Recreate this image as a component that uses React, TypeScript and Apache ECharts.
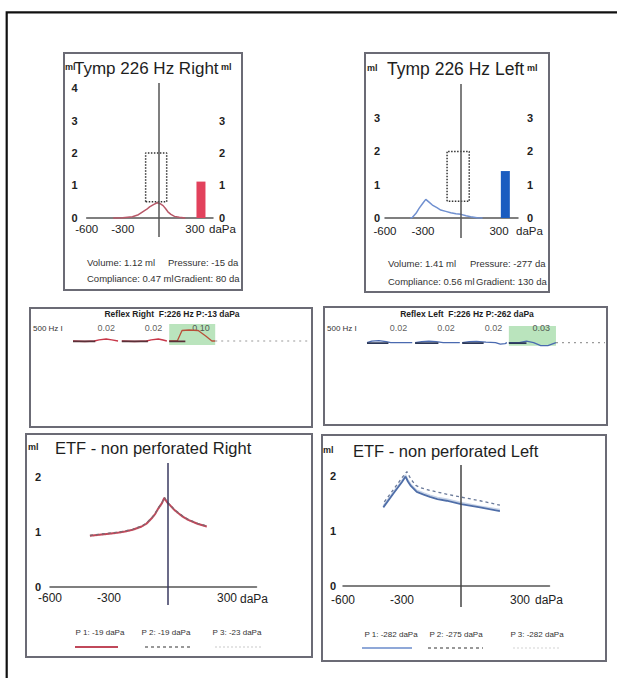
import React, { useEffect, useRef } from "react";
import * as echarts from "echarts";

const FONT = "'Liberation Sans', Arial, Helvetica, sans-serif";

// ---------- Tympanometry ----------
const tympXTicks = [-600, -300, 300];
const tympRightYTicksLeft = [0, 1, 2, 3, 4];
const tympRightYTicksRight = [0, 1, 2, 3];
const tympLeftYTicksLeft = [0, 1, 2, 3];
const tympLeftYTicksRight = [0, 1, 2, 3];

const tympRightCurve: [number, number][] = [
  [-380, 0], [-300, 0.01], [-220, 0.04], [-170, 0.1], [-135, 0.19], [-100, 0.27],
  [-77, 0.34], [-45, 0.41], [-15, 0.47], [10, 0.44], [35, 0.38], [55, 0.29],
  [75, 0.19], [100, 0.11], [130, 0.05], [170, 0.02], [220, 0],
];
const tympLeftCurve: [number, number][] = [
  [-400, 0], [-383, 0.02], [-355, 0.14], [-331, 0.29], [-300, 0.45], [-278, 0.56],
  [-250, 0.47], [-226, 0.39], [-190, 0.31], [-160, 0.24], [-120, 0.2], [-81, 0.16],
  [-40, 0.13], [0, 0.11], [40, 0.07], [76, 0.04], [126, 0.01], [170, 0],
];
const normalRegionX = [-110, 65];
const normalRegionY = [0.5, 2.0];
const volumeBarPressure = 350;
const tympRightVolume = 1.12;
const tympLeftVolume = 1.41;

const tympRightInfo = ["Volume: 1.12 ml", "Pressure: -15 da", "Compliance: 0.47 ml", "Gradient: 80 da"];
const tympLeftInfo = ["Volume: 1.41 ml", "Pressure: -277 da", "Compliance: 0.56 ml", "Gradient: 130 da"];

// ---------- Reflex ----------
const reflexRightTraces: [number, number][][] = [
  [[0, 0], [0.25, -0.005], [0.45, 0], [0.55, 0.012], [0.7, 0.02], [0.82, 0.012], [0.95, 0]],
  [[1.03, 0], [1.3, -0.005], [1.55, 0], [1.65, 0.012], [1.8, 0.02], [1.9, 0.01], [1.98, 0]],
  [[2.03, 0], [2.2, 0], [2.3, 0.105], [2.45, 0.11], [2.64, 0.105], [2.8, 0.05], [2.93, 0], [3.0, 0]],
];
const reflexRightOverlay: [number, number][][] = [
  [[0, -0.004], [0.47, -0.004]],
  [[1.03, -0.004], [1.58, -0.004]],
  [[2.03, -0.004], [2.37, -0.004]],
];
const reflexRightBaseline: [number, number][] = [[3.0, 0], [5.0, 0]];
const reflexRightValues = ["0.02", "0.02", "0.10"];
const reflexRightHighlight = [2.03, 3.0];

const reflexLeftTraces: [number, number][][] = [
  [[0, 0], [0.1, 0.015], [0.25, 0.02], [0.4, 0.01], [0.5, 0], [0.95, 0]],
  [[1.01, 0], [1.15, 0.01], [1.3, 0.015], [1.45, 0.01], [1.6, 0], [1.95, 0]],
  [[2.0, 0], [2.15, 0.01], [2.3, 0.012], [2.5, 0.005], [2.7, 0], [2.8, -0.015], [2.9, -0.01], [2.94, 0]],
  [[2.98, 0], [3.2, 0], [3.35, 0.015], [3.5, 0], [3.65, -0.03], [3.8, -0.03], [3.97, 0]],
];
const reflexLeftOverlay: [number, number][][] = [
  [[0, -0.004], [0.45, -0.004]],
  [[1.01, -0.004], [1.5, -0.004]],
  [[2.0, -0.004], [2.45, -0.004]],
  [[2.98, -0.004], [3.35, -0.004]],
];
const reflexLeftBaseline: [number, number][] = [[3.97, 0], [5.0, 0]];
const reflexLeftValues = ["0.02", "0.02", "0.02", "0.03"];
const reflexLeftHighlight = [2.98, 3.97];

// ---------- ETF ----------
const etfXTicks = [-600, -300, 300];
const etfYTicks = [0, 1, 2];
const etfRightP1: [number, number][] = [
  [-397, 0.93], [-350, 0.95], [-300, 0.97], [-250, 0.99], [-219, 1.01], [-180, 1.04], [-134, 1.1],
  [-110, 1.15], [-83, 1.25], [-65, 1.33], [-49, 1.43], [-30, 1.53], [-19, 1.62], [-10, 1.57],
  [0, 1.52], [10, 1.49], [30, 1.41], [53, 1.34], [75, 1.28], [103, 1.22], [150, 1.15], [197, 1.1],
];
const etfRightP2: [number, number][] = [
  [-397, 0.94], [-350, 0.96], [-300, 0.98], [-250, 1.0], [-219, 1.02], [-180, 1.05], [-134, 1.11],
  [-110, 1.16], [-83, 1.26], [-65, 1.34], [-49, 1.44], [-30, 1.54], [-19, 1.63], [-10, 1.58],
  [0, 1.53], [10, 1.5], [30, 1.42], [53, 1.35], [75, 1.29], [103, 1.23], [150, 1.16], [197, 1.11],
];
const etfRightP3: [number, number][] = [
  [-397, 0.92], [-350, 0.94], [-300, 0.96], [-250, 0.98], [-219, 1.0], [-180, 1.03], [-134, 1.09],
  [-110, 1.14], [-83, 1.24], [-65, 1.32], [-49, 1.41], [-30, 1.51], [-23, 1.6], [-10, 1.56],
  [0, 1.51], [10, 1.48], [30, 1.4], [53, 1.33], [75, 1.27], [103, 1.21], [150, 1.14], [197, 1.09],
];
const etfLeftP1: [number, number][] = [
  [-395, 1.43], [-340, 1.7], [-300, 1.89], [-282, 1.99], [-270, 1.9], [-255, 1.82], [-225, 1.71],
  [-190, 1.66], [-158, 1.62], [-120, 1.58], [-73, 1.55], [0, 1.49], [97, 1.43], [198, 1.36],
];
const etfLeftP2: [number, number][] = [
  [-390, 1.53], [-340, 1.77], [-300, 1.97], [-275, 2.08], [-262, 1.99], [-250, 1.92], [-230, 1.83],
  [-208, 1.79], [-170, 1.75], [-124, 1.71], [-60, 1.66], [-5, 1.62], [97, 1.55], [198, 1.47],
];
const etfLeftP3: [number, number][] = [
  [-395, 1.46], [-340, 1.73], [-300, 1.92], [-282, 2.02], [-270, 1.93], [-255, 1.85], [-225, 1.74],
  [-190, 1.69], [-158, 1.65], [-120, 1.61], [-73, 1.58], [0, 1.52], [97, 1.45], [198, 1.39],
];
const etfRightLegend = ["P 1: -19 daPa", "P 2: -19 daPa", "P 3: -23 daPa"];
const etfLeftLegend = ["P 1: -282 daPa", "P 2: -275 daPa", "P 3: -282 daPa"];

function regionPath(): [number, number][] {
  const [x0, x1] = normalRegionX;
  const [y0, y1] = normalRegionY;
  return [[x0, y0], [x0, y1], [x1, y1], [x1, y0], [x0, y0]];
}

function buildOption() {
  const noLine = { show: false };
  const grids = [
    { left: 86.7, top: 83, width: 126.3, height: 154 },
    { left: 385, top: 84, width: 133, height: 154 },
    { left: 73, top: 321, width: 237, height: 25 },
    { left: 367, top: 322.7, width: 238, height: 25 },
    { left: 50, top: 463, width: 206.5, height: 142 },
    { left: 343, top: 465, width: 206.5, height: 142 },
  ].map((g) => ({ ...g, outerBoundsMode: "none", containLabel: false }));

  const valX = (gridIndex: number, ticks: number[], fontSize: number, margin: number) => ({
    type: "value",
    gridIndex,
    min: -600,
    max: 450,
    axisLine: { show: true, onZero: true, lineStyle: { color: "#555", width: 1.5 } },
    axisTick: noLine,
    splitLine: noLine,
    axisLabel: { customValues: ticks, fontSize, color: "#222", margin, fontFamily: FONT },
  });
  const valY = (gridIndex: number, pos: string, min: number, max: number, ticks: number[], margin: number) => ({
    type: "value",
    gridIndex,
    position: pos,
    min,
    max,
    axisLine: { show: false, onZero: false },
    axisTick: noLine,
    splitLine: noLine,
    axisLabel: { customValues: ticks, fontSize: 11, fontWeight: "bold", color: "#222", margin, fontFamily: FONT },
  });
  const hiddenX = (gridIndex: number) => ({ type: "value", gridIndex, min: 0, max: 5, show: false });
  const hiddenY = (gridIndex: number) => ({ type: "value", gridIndex, min: -0.05, max: 0.2, show: false });

  const xAxis = [
    valX(0, tympXTicks, 11.5, -14.5),
    valX(1, tympXTicks, 11.5, -13.5),
    hiddenX(2),
    hiddenX(3),
    valX(4, etfXTicks, 12, -13),
    valX(5, etfXTicks, 12, -13),
  ];
  const yAxis = [
    valY(0, "left", -0.585, 4.154, tympRightYTicksLeft, 9),
    valY(0, "right", -0.585, 4.154, tympRightYTicksRight, 6),
    valY(1, "left", -0.6, 4.024, tympLeftYTicksLeft, 5),
    valY(1, "right", -0.6, 4.024, tympLeftYTicksRight, 9),
    hiddenY(2),
    hiddenY(3),
    valY(4, "left", -0.327, 2.2545, etfYTicks, 9),
    valY(5, "left", -0.382, 2.2, etfYTicks, 7),
  ];

  const zeroLine = (color: string, width: number) => ({
    silent: true,
    symbol: ["none", "none"],
    label: { show: false },
    lineStyle: { color, width, type: "solid" },
    data: [{ xAxis: 0 }],
  });

  const line = (xi: number, yi: number, data: any, color: string, width: number, type: any = "solid", extra: any = {}) => ({
    type: "line",
    xAxisIndex: xi,
    yAxisIndex: yi,
    data,
    showSymbol: false,
    symbol: "none",
    lineStyle: { color, width, type },
    silent: true,
    ...extra,
  });

  const series: any[] = [];
  // Tymp right
  series.push(line(0, 0, tympRightCurve, "#b85868", 1.5, "solid", { markLine: zeroLine("#555", 1.5) }));
  series.push(line(0, 0, regionPath(), "#333", 1.5, "dotted"));
  series.push({
    type: "bar", xAxisIndex: 0, yAxisIndex: 0, barWidth: 9, silent: true,
    data: [[volumeBarPressure, tympRightVolume]], itemStyle: { color: "#e2415c" },
  });
  // Tymp left
  series.push(line(1, 2, tympLeftCurve, "#7090d0", 1.5, "solid", { markLine: zeroLine("#555", 1.5) }));
  series.push(line(1, 2, regionPath(), "#333", 1.5, "dotted"));
  series.push({
    type: "bar", xAxisIndex: 1, yAxisIndex: 2, barWidth: 9, silent: true,
    data: [[volumeBarPressure, tympLeftVolume]], itemStyle: { color: "#1a5cc0" },
  });

  // Reflex right
  reflexRightTraces.forEach((tr, i) => {
    const extra: any = {};
    if (i === reflexRightTraces.length - 1) {
      extra.markArea = {
        silent: true,
        itemStyle: { color: "rgba(130,205,135,0.55)" },
        data: [[{ xAxis: reflexRightHighlight[0], yAxis: -0.04 }, { xAxis: reflexRightHighlight[1], yAxis: 0.17 }]],
      };
    }
    series.push(line(2, 4, tr, i === 2 ? "#b8503a" : "#c8384a", 1.3, "solid", extra));
  });
  reflexRightOverlay.forEach((tr) => series.push(line(2, 4, tr, "#5a3038", 1.6)));
  series.push(line(2, 4, reflexRightBaseline, "#999", 1.2, [2, 4]));
  series.push({
    type: "scatter", xAxisIndex: 2, yAxisIndex: 4, symbolSize: 0, silent: true,
    data: reflexRightValues.map((v, i) => [i + 0.7, 0.13, v]),
    label: { show: true, position: "inside", formatter: (p: any) => p.value[2], fontSize: 9, color: "#333", fontFamily: FONT },
  });

  // Reflex left
  reflexLeftTraces.forEach((tr, i) => {
    const extra: any = {};
    if (i === reflexLeftTraces.length - 1) {
      extra.markArea = {
        silent: true,
        itemStyle: { color: "rgba(130,205,135,0.55)" },
        data: [[{ xAxis: reflexLeftHighlight[0], yAxis: -0.03 }, { xAxis: reflexLeftHighlight[1], yAxis: 0.167 }]],
      };
    }
    series.push(line(3, 5, tr, "#4a6ab0", 1.3, "solid", extra));
  });
  reflexLeftOverlay.forEach((tr) => series.push(line(3, 5, tr, "#2c3858", 1.6)));
  series.push(line(3, 5, reflexLeftBaseline, "#999", 1.2, [2, 4]));
  series.push({
    type: "scatter", xAxisIndex: 3, yAxisIndex: 5, symbolSize: 0, silent: true,
    data: reflexLeftValues.map((v, i) => [i + 0.66, 0.15, v]),
    label: { show: true, position: "inside", formatter: (p: any) => p.value[2], fontSize: 9, color: "#333", fontFamily: FONT },
  });

  // ETF right
  series.push(line(4, 6, etfRightP3, "#e8dcdc", 1.5, "dotted"));
  series.push(line(4, 6, etfRightP1, "#c0485a", 2, "solid", { markLine: zeroLine("#3a3a60", 1.5) }));
  series.push(line(4, 6, etfRightP2, "#7a6a72", 1.2, [3, 3]));
  // ETF left
  series.push(line(5, 7, etfLeftP3, "#c8d4e8", 1.5));
  series.push(line(5, 7, etfLeftP1, "#4f6ea8", 1.8, "solid", { markLine: zeroLine("#444", 1.5) }));
  series.push(line(5, 7, etfLeftP2, "#6a7a9a", 1.3, [3, 3]));

  const txt = (x: number, y: number, text: string, fontSize: number, opts: any = {}) => ({
    type: "text",
    x,
    y,
    silent: true,
    style: {
      text,
      fontSize,
      fontFamily: FONT,
      fontWeight: opts.bold ? "bold" : "normal",
      fill: opts.color || "#1e1e1e",
      align: opts.align || "left",
      verticalAlign: "middle",
    },
  });
  const box = (x: number, y: number, w: number, h: number) => ({
    type: "rect",
    silent: true,
    shape: { x, y, width: w, height: h },
    style: { fill: "none", stroke: "#6b6b75", lineWidth: 2 },
  });
  const seg = (x1: number, x2: number, y: number, color: string, width: number, dash?: number[]) => ({
    type: "line",
    silent: true,
    shape: { x1, y1: y, x2, y2: y },
    style: { stroke: color, lineWidth: width, lineDash: dash || null },
  });

  const graphic: any[] = [
    {
      type: "rect", silent: true, shape: { x: 6.7, y: 12.3, width: 700, height: 700 },
      style: { fill: "none", stroke: "#111", lineWidth: 2.2 },
    },
    box(64, 53, 178, 237),
    box(365, 53, 184, 239),
    box(30, 308, 282, 119),
    box(324, 307, 283, 118),
    box(26, 434, 286, 223),
    box(322, 435, 284, 226),

    // Tymp right texts
    txt(65, 67, "ml", 9, { bold: true }),
    txt(74, 68, "Tymp 226 Hz Right", 17),
    txt(221, 67, "ml", 9, { bold: true }),
    txt(209, 229, "daPa", 11.5, { color: "#222" }),
    txt(87, 262, tympRightInfo[0], 9.5, { color: "#333" }),
    txt(168, 262, tympRightInfo[1], 9.5, { color: "#333" }),
    txt(87, 278, tympRightInfo[2], 9.5, { color: "#333" }),
    txt(174, 278, tympRightInfo[3], 9.5, { color: "#333" }),

    // Tymp left texts
    txt(367, 68, "ml", 9, { bold: true }),
    txt(387, 69, "Tymp 226 Hz Left", 17.5),
    txt(527, 68, "ml", 9, { bold: true }),
    txt(516, 231, "daPa", 11.5, { color: "#222" }),
    txt(388, 263, tympLeftInfo[0], 9.5, { color: "#333" }),
    txt(470, 263, tympLeftInfo[1], 9.5, { color: "#333" }),
    txt(388, 281, tympLeftInfo[2], 9.5, { color: "#333" }),
    txt(476, 281, tympLeftInfo[3], 9.5, { color: "#333" }),

    // Reflex texts
    txt(172, 314, "Reflex Right  F:226 Hz P:-13 daPa", 8.5, { bold: true, align: "center" }),
    txt(33, 328, "500 Hz I", 8, { color: "#333" }),
    txt(467, 314, "Reflex Left  F:226 Hz P:-262 daPa", 8.5, { bold: true, align: "center" }),
    txt(327, 328, "500 Hz I", 8, { color: "#333" }),

    // ETF right texts
    txt(28, 447, "ml", 9, { bold: true }),
    txt(55, 448, "ETF - non perforated Right", 16.5),
    txt(240, 599, "daPa", 12, { color: "#222" }),
    txt(100, 632, etfRightLegend[0], 8, { align: "center", color: "#333" }),
    txt(166, 632, etfRightLegend[1], 8, { align: "center", color: "#333" }),
    txt(237, 632, etfRightLegend[2], 8, { align: "center", color: "#333" }),
    seg(75, 118, 647, "#c0485a", 2),
    seg(145, 192, 647, "#777", 1.5, [3, 3]),
    seg(215, 262, 647, "#dcdcdc", 1.5, [2, 2]),

    // ETF left texts
    txt(323, 450, "ml", 9, { bold: true }),
    txt(353, 451, "ETF - non perforated Left", 16.5),
    txt(535, 600, "daPa", 12, { color: "#222" }),
    txt(391, 634, etfLeftLegend[0], 8, { align: "center", color: "#333" }),
    txt(456, 634, etfLeftLegend[1], 8, { align: "center", color: "#333" }),
    txt(537, 634, etfLeftLegend[2], 8, { align: "center", color: "#333" }),
    seg(362, 412, 648, "#8fa8d8", 2),
    seg(428, 483, 648, "#777", 1.5, [3, 3]),
    seg(513, 560, 648, "#e2e2e2", 1.5, [2, 2]),
  ];

  return {
    animation: false,
    backgroundColor: "#ffffff",
    grid: grids,
    xAxis,
    yAxis,
    series,
    graphic,
  };
}

export default function App() {
  const ref = useRef<HTMLDivElement>(null);
  useEffect(() => {
    if (!ref.current) return;
    const chart = echarts.init(ref.current, null, { renderer: "svg" });
    chart.setOption(buildOption() as any);
    return () => chart.dispose();
  }, []);
  return (
    <div
      ref={ref}
      style={{ position: "absolute", left: 0, top: 0, width: 617, height: 678, background: "#fff" }}
    />
  );
}
